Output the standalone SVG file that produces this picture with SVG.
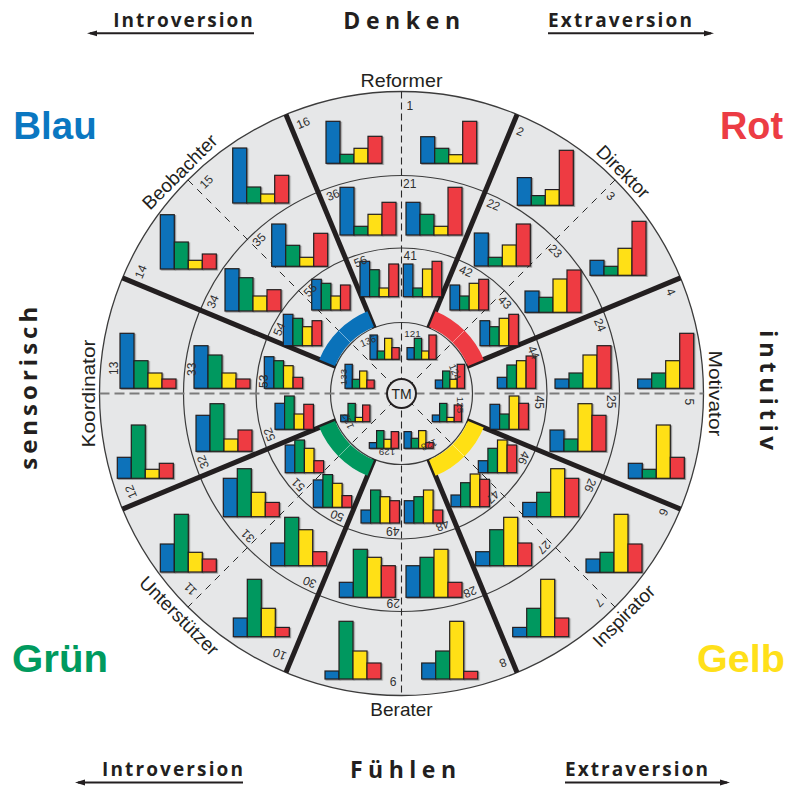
<svg xmlns="http://www.w3.org/2000/svg" width="789" height="787" viewBox="0 0 789 787">
  <defs>
    <style>
      .hd{font-family:"Open Sans","Liberation Sans",Arial,sans-serif;font-weight:bold;fill:#231f20}
      .cw{font-family:"Liberation Sans",Arial,sans-serif;font-weight:bold}
      .tl{font-family:"Liberation Sans",Arial,sans-serif;font-size:19px;fill:#231f20;text-anchor:middle}
      .nm{font-family:"Liberation Sans",Arial,sans-serif;font-size:12px;fill:#2f2f2f}
      .ni{font-family:"Liberation Sans",Arial,sans-serif;font-size:9.8px;fill:#2f2f2f;text-anchor:middle}
      .ring{fill:none;stroke:#3c3c3c;stroke-width:1.2}
      .thick{stroke:#231f20;stroke-width:5;stroke-linecap:butt}
      .dash{stroke:#2a2a2a;stroke-width:1.1;stroke-dasharray:7 4}
      .dashd{stroke:#2a2a2a;stroke-width:1;stroke-dasharray:7 6}
      .dashh{stroke:#7c7c7c;stroke-width:1.8;stroke-dasharray:10 5}
      .band{fill:none;stroke-width:17}
      .arr{stroke:#231f20;stroke-width:2}
      .ch{filter:url(#sh)}
      .ch rect{stroke:#231f20;stroke-width:1.2}
      .b{fill:#0a72ba}
      .g{fill:#00985e}
      .y{fill:#ffe014}
      .r{fill:#ee3b43}
    </style>
    <filter id="sh" x="-10%" y="-10%" width="130%" height="130%">
      <feDropShadow dx="1.2" dy="1" stdDeviation="0.6" flood-color="#000" flood-opacity="0.35"/>
    </filter>
    <marker id="ah" markerUnits="userSpaceOnUse" markerWidth="10" markerHeight="7" refX="7" refY="3.5" orient="auto">
      <path d="M0,0.6 L10,3.5 L0,6.4 z" fill="#231f20"/>
    </marker>
  </defs>

  <rect width="789" height="787" fill="#ffffff"/>

  <!-- headers -->
  <g id="headers">
    <text class="hd" x="113.3" y="26.7" font-size="19" textLength="139.4" lengthAdjust="spacing">Introversion</text>
    <text class="hd" x="343.3" y="29.3" font-size="23" textLength="116.7" lengthAdjust="spacing">Denken</text>
    <text class="hd" x="548" y="26.7" font-size="19" textLength="144" lengthAdjust="spacing">Extraversion</text>
    <line class="arr" x1="254" y1="33.3" x2="90" y2="33.3" marker-end="url(#ah)"/>
    <line class="arr" x1="548" y1="33.3" x2="711" y2="33.3" marker-end="url(#ah)"/>
    <text class="hd" x="102" y="776" font-size="19" textLength="141" lengthAdjust="spacing">Introversion</text>
    <text class="hd" x="350" y="778" font-size="23" textLength="106" lengthAdjust="spacing">Fühlen</text>
    <text class="hd" x="565" y="776" font-size="19" textLength="143" lengthAdjust="spacing">Extraversion</text>
    <line class="arr" x1="243" y1="782.5" x2="78" y2="782.5" marker-end="url(#ah)"/>
    <line class="arr" x1="565" y1="782.5" x2="727" y2="782.5" marker-end="url(#ah)"/>
    <text class="hd" font-size="24" text-anchor="middle" textLength="163" lengthAdjust="spacing" transform="translate(37.3 388.3) rotate(-90)">sensorisch</text>
    <text class="hd" font-size="24" text-anchor="middle" textLength="120" lengthAdjust="spacing" transform="translate(760 390) rotate(90)">intuitiv</text>
    <text class="cw" x="13.3" y="139.3" font-size="39" fill="#0a77c1" textLength="83.4" lengthAdjust="spacingAndGlyphs">Blau</text>
    <text class="cw" x="720" y="139" font-size="39" fill="#ec3c44" textLength="63" lengthAdjust="spacingAndGlyphs">Rot</text>
    <text class="cw" x="12" y="672" font-size="39" fill="#009a5e" textLength="96" lengthAdjust="spacingAndGlyphs">Grün</text>
    <text class="cw" x="697" y="672" font-size="39" fill="#ffe01a" textLength="88" lengthAdjust="spacingAndGlyphs">Gelb</text>
  </g>

  <!-- disk and rings -->
  <g id="rings">
    <circle cx="401.5" cy="393.5" r="302" fill="#e6e7e8" stroke="#3c3c3c" stroke-width="1.3"/>
    <circle class="ring" cx="401.5" cy="393.5" r="218"/>
    <circle class="ring" cx="401.5" cy="393.5" r="145.5"/>
    <circle class="ring" cx="401.5" cy="393.5" r="71"/>
  </g>

  <!-- connectors: sector dividers -->
  <g id="connectors">
    <line class="dash" x1="401.5" y1="91.5" x2="401.5" y2="695.5"/>
    <line class="dashh" x1="99.5" y1="393.5" x2="703.5" y2="393.5"/>
    <line class="dashd" x1="187.96" y1="179.96" x2="615.04" y2="607.04"/>
    <line class="dashd" x1="615.04" y1="179.96" x2="187.96" y2="607.04"/>
    <line class="thick" x1="428.67" y1="327.9" x2="517.07" y2="114.49"/>
    <line class="thick" x1="467.1" y1="366.33" x2="680.51" y2="277.93"/>
    <line class="thick" x1="467.1" y1="420.67" x2="680.51" y2="509.07"/>
    <line class="thick" x1="428.67" y1="459.1" x2="517.07" y2="672.51"/>
    <line class="thick" x1="374.33" y1="459.1" x2="285.93" y2="672.51"/>
    <line class="thick" x1="335.9" y1="420.67" x2="122.49" y2="509.07"/>
    <line class="thick" x1="335.9" y1="366.33" x2="122.49" y2="277.93"/>
    <line class="thick" x1="374.33" y1="327.9" x2="285.93" y2="114.49"/>
  </g>

  <!-- colour bands around the core -->
  <g id="bands">
    <path class="band" stroke="#ee3b43" d="M432.306,319.128 A80.5,80.5 0 0 1 475.872,362.694"/>
    <path class="band" stroke="#ffe014" d="M475.872,424.306 A80.5,80.5 0 0 1 432.306,467.872"/>
    <path class="band" stroke="#00985e" d="M370.694,467.872 A80.5,80.5 0 0 1 327.128,424.306"/>
    <path class="band" stroke="#0a72ba" d="M327.128,362.694 A80.5,80.5 0 0 1 370.694,319.128"/>
    <g stroke="#ffffff" stroke-opacity="0.45" stroke-width="1">
      <line x1="452.4" y1="342.6" x2="464.4" y2="330.6"/>
      <line x1="452.4" y1="444.4" x2="464.4" y2="456.4"/>
      <line x1="350.6" y1="444.4" x2="338.6" y2="456.4"/>
      <line x1="350.6" y1="342.6" x2="338.6" y2="330.6"/>
    </g>
  </g>

  <g id="tm">
    <circle cx="401.5" cy="393.5" r="14.5" fill="#e6e7e8" stroke="#231f20" stroke-width="2"/>
    <text x="401.5" y="398.5" font-family="Liberation Sans, Arial, sans-serif" font-size="14" fill="#231f20" text-anchor="middle">TM</text>
  </g>

  <!-- outer ring charts -->
  <g id="outer-charts">
    <g id="o0" class="ch" transform="translate(420.7 163.3)"><rect class="b" x="0" y="-26.6" width="14" height="26.6"/><rect class="g" x="14" y="-15" width="14" height="15"/><rect class="y" x="28" y="-8.6" width="14" height="8.6"/><rect class="r" x="42" y="-42" width="14" height="42"/></g>
    <g id="o1" class="ch" transform="translate(517.3 205.3)"><rect class="b" x="0" y="-27.7" width="14" height="27.7"/><rect class="g" x="14" y="-9.7" width="14" height="9.7"/><rect class="y" x="28" y="-15.7" width="14" height="15.7"/><rect class="r" x="42" y="-55" width="14" height="55"/></g>
    <g id="o2" class="ch" transform="translate(590 275.3)"><rect class="b" x="0" y="-15" width="14" height="15"/><rect class="g" x="14" y="-9" width="14" height="9"/><rect class="y" x="28" y="-27" width="14" height="27"/><rect class="r" x="42" y="-54" width="14" height="54"/></g>
    <g id="o3" class="ch" transform="translate(637.7 388.3)"><rect class="b" x="0" y="-9.3" width="14" height="9.3"/><rect class="g" x="14" y="-15.3" width="14" height="15.3"/><rect class="y" x="28" y="-27.6" width="14" height="27.6"/><rect class="r" x="42" y="-55" width="14" height="55"/></g>
    <g id="o4" class="ch" transform="translate(628.3 478.3)"><rect class="b" x="0" y="-15" width="14" height="15"/><rect class="g" x="14" y="-9" width="14" height="9"/><rect class="y" x="28" y="-53.3" width="14" height="53.3"/><rect class="r" x="42" y="-21" width="14" height="21"/></g>
    <g id="o5" class="ch" transform="translate(586 572.3)"><rect class="b" x="0" y="-13.3" width="14" height="13.3"/><rect class="g" x="14" y="-20" width="14" height="20"/><rect class="y" x="28" y="-58" width="14" height="58"/><rect class="r" x="42" y="-28.3" width="14" height="28.3"/></g>
    <g id="o6" class="ch" transform="translate(512.7 636.7)"><rect class="b" x="0" y="-9.3" width="14" height="9.3"/><rect class="g" x="14" y="-28.4" width="14" height="28.4"/><rect class="y" x="28" y="-57.4" width="14" height="57.4"/><rect class="r" x="42" y="-18.7" width="14" height="18.7"/></g>
    <g id="o7" class="ch" transform="translate(421.7 679)"><rect class="b" x="0" y="-16" width="14" height="16"/><rect class="g" x="14" y="-28" width="14" height="28"/><rect class="y" x="28" y="-57.7" width="14" height="57.7"/><rect class="r" x="42" y="-7.7" width="14" height="7.7"/></g>
    <g id="o8" class="ch" transform="translate(325 679)"><rect class="b" x="0" y="-8" width="14" height="8"/><rect class="g" x="14" y="-57.7" width="14" height="57.7"/><rect class="y" x="28" y="-28" width="14" height="28"/><rect class="r" x="42" y="-16" width="14" height="16"/></g>
    <g id="o9" class="ch" transform="translate(233.3 636.7)"><rect class="b" x="0" y="-18.7" width="14" height="18.7"/><rect class="g" x="14" y="-57.4" width="14" height="57.4"/><rect class="y" x="28" y="-28.4" width="14" height="28.4"/><rect class="r" x="42" y="-9.3" width="14" height="9.3"/></g>
    <g id="o10" class="ch" transform="translate(160.3 572)"><rect class="b" x="0" y="-28" width="14" height="28"/><rect class="g" x="14" y="-57.7" width="14" height="57.7"/><rect class="y" x="28" y="-19.7" width="14" height="19.7"/><rect class="r" x="42" y="-13" width="14" height="13"/></g>
    <g id="o11" class="ch" transform="translate(117.3 478.3)"><rect class="b" x="0" y="-21" width="14" height="21"/><rect class="g" x="14" y="-53.3" width="14" height="53.3"/><rect class="y" x="28" y="-9" width="14" height="9"/><rect class="r" x="42" y="-15" width="14" height="15"/></g>
    <g id="o12" class="ch" transform="translate(120 388.3)"><rect class="b" x="0" y="-55" width="14" height="55"/><rect class="g" x="14" y="-27.6" width="14" height="27.6"/><rect class="y" x="28" y="-15.3" width="14" height="15.3"/><rect class="r" x="42" y="-9.3" width="14" height="9.3"/></g>
    <g id="o13" class="ch" transform="translate(160.3 269)"><rect class="b" x="0" y="-54.3" width="14" height="54.3"/><rect class="g" x="14" y="-27" width="14" height="27"/><rect class="y" x="28" y="-8.7" width="14" height="8.7"/><rect class="r" x="42" y="-15" width="14" height="15"/></g>
    <g id="o14" class="ch" transform="translate(232.7 203)"><rect class="b" x="0" y="-55" width="14" height="55"/><rect class="g" x="14" y="-16" width="14" height="16"/><rect class="y" x="28" y="-9" width="14" height="9"/><rect class="r" x="42" y="-27.7" width="14" height="27.7"/></g>
    <g id="o15" class="ch" transform="translate(326 163.3)"><rect class="b" x="0" y="-42" width="14" height="42"/><rect class="g" x="14" y="-9" width="14" height="9"/><rect class="y" x="28" y="-15" width="14" height="15"/><rect class="r" x="42" y="-27" width="14" height="27"/></g>
  </g>

  <!-- second ring charts -->
  <g id="middle-charts">
    <g id="m0" class="ch" transform="translate(406 235)"><rect class="b" x="0" y="-32.7" width="14" height="32.7"/><rect class="g" x="14" y="-20.7" width="14" height="20.7"/><rect class="y" x="28" y="-8.7" width="14" height="8.7"/><rect class="r" x="42" y="-47.7" width="14" height="47.7"/></g>
    <g id="m1" class="ch" transform="translate(474.3 266)"><rect class="b" x="0" y="-33" width="14" height="33"/><rect class="g" x="14" y="-8.7" width="14" height="8.7"/><rect class="y" x="28" y="-21" width="14" height="21"/><rect class="r" x="42" y="-42" width="14" height="42"/></g>
    <g id="m2" class="ch" transform="translate(525 312.3)"><rect class="b" x="0" y="-21.3" width="14" height="21.3"/><rect class="g" x="14" y="-15" width="14" height="15"/><rect class="y" x="28" y="-33.3" width="14" height="33.3"/><rect class="r" x="42" y="-42.3" width="14" height="42.3"/></g>
    <g id="m3" class="ch" transform="translate(555 388.3)"><rect class="b" x="0" y="-9.3" width="14" height="9.3"/><rect class="g" x="14" y="-15.3" width="14" height="15.3"/><rect class="y" x="28" y="-33.3" width="14" height="33.3"/><rect class="r" x="42" y="-42.6" width="14" height="42.6"/></g>
    <g id="m4" class="ch" transform="translate(550 451.3)"><rect class="b" x="0" y="-21.3" width="14" height="21.3"/><rect class="g" x="14" y="-12.3" width="14" height="12.3"/><rect class="y" x="28" y="-47.6" width="14" height="47.6"/><rect class="r" x="42" y="-36" width="14" height="36"/></g>
    <g id="m5" class="ch" transform="translate(522.7 516.7)"><rect class="b" x="0" y="-14.3" width="14" height="14.3"/><rect class="g" x="14" y="-24.4" width="14" height="24.4"/><rect class="y" x="28" y="-48" width="14" height="48"/><rect class="r" x="42" y="-38.4" width="14" height="38.4"/></g>
    <g id="m6" class="ch" transform="translate(475.7 565.7)"><rect class="b" x="0" y="-14" width="14" height="14"/><rect class="g" x="14" y="-36" width="14" height="36"/><rect class="y" x="28" y="-48.4" width="14" height="48.4"/><rect class="r" x="42" y="-22.7" width="14" height="22.7"/></g>
    <g id="m7" class="ch" transform="translate(406 597.3)"><rect class="b" x="0" y="-31.6" width="14" height="31.6"/><rect class="g" x="14" y="-40" width="14" height="40"/><rect class="y" x="28" y="-48" width="14" height="48"/><rect class="r" x="42" y="-15" width="14" height="15"/></g>
    <g id="m8" class="ch" transform="translate(339.3 597.3)"><rect class="b" x="0" y="-15" width="14" height="15"/><rect class="g" x="14" y="-48" width="14" height="48"/><rect class="y" x="28" y="-40" width="14" height="40"/><rect class="r" x="42" y="-31.6" width="14" height="31.6"/></g>
    <g id="m9" class="ch" transform="translate(270.7 565.7)"><rect class="b" x="0" y="-22.7" width="14" height="22.7"/><rect class="g" x="14" y="-48.4" width="14" height="48.4"/><rect class="y" x="28" y="-36" width="14" height="36"/><rect class="r" x="42" y="-14" width="14" height="14"/></g>
    <g id="m10" class="ch" transform="translate(223.3 516.7)"><rect class="b" x="0" y="-38.4" width="14" height="38.4"/><rect class="g" x="14" y="-48" width="14" height="48"/><rect class="y" x="28" y="-24.4" width="14" height="24.4"/><rect class="r" x="42" y="-14.3" width="14" height="14.3"/></g>
    <g id="m11" class="ch" transform="translate(196 451.3)"><rect class="b" x="0" y="-36" width="14" height="36"/><rect class="g" x="14" y="-47.6" width="14" height="47.6"/><rect class="y" x="28" y="-12.3" width="14" height="12.3"/><rect class="r" x="42" y="-21.3" width="14" height="21.3"/></g>
    <g id="m12" class="ch" transform="translate(194 388.3)"><rect class="b" x="0" y="-42.6" width="14" height="42.6"/><rect class="g" x="14" y="-33.3" width="14" height="33.3"/><rect class="y" x="28" y="-15.3" width="14" height="15.3"/><rect class="r" x="42" y="-9.3" width="14" height="9.3"/></g>
    <g id="m13" class="ch" transform="translate(225 311)"><rect class="b" x="0" y="-42.3" width="14" height="42.3"/><rect class="g" x="14" y="-33.3" width="14" height="33.3"/><rect class="y" x="28" y="-15" width="14" height="15"/><rect class="r" x="42" y="-21.3" width="14" height="21.3"/></g>
    <g id="m14" class="ch" transform="translate(271.7 266.3)"><rect class="b" x="0" y="-42.3" width="14" height="42.3"/><rect class="g" x="14" y="-21" width="14" height="21"/><rect class="y" x="28" y="-9" width="14" height="9"/><rect class="r" x="42" y="-33" width="14" height="33"/></g>
    <g id="m15" class="ch" transform="translate(340 235)"><rect class="b" x="0" y="-47.7" width="14" height="47.7"/><rect class="g" x="14" y="-8.7" width="14" height="8.7"/><rect class="y" x="28" y="-20.7" width="14" height="20.7"/><rect class="r" x="42" y="-32.7" width="14" height="32.7"/></g>
  </g>

  <!-- third ring charts -->
  <g id="inner-charts">
    <g id="i0" class="ch" transform="translate(403.3 296.7)"><rect class="b" x="0" y="-32.7" width="9.6" height="32.7"/><rect class="g" x="9.6" y="-8.7" width="9.6" height="8.7"/><rect class="y" x="19.2" y="-27.7" width="9.6" height="27.7"/><rect class="r" x="28.8" y="-35.4" width="9.6" height="35.4"/></g>
    <g id="i1" class="ch" transform="translate(450 310)"><rect class="b" x="0" y="-25" width="9.6" height="25"/><rect class="g" x="9.6" y="-14" width="9.6" height="14"/><rect class="y" x="19.2" y="-26.7" width="9.6" height="26.7"/><rect class="r" x="28.8" y="-30.7" width="9.6" height="30.7"/></g>
    <g id="i2" class="ch" transform="translate(480 345.7)"><rect class="b" x="0" y="-25" width="9.6" height="25"/><rect class="g" x="9.6" y="-19" width="9.6" height="19"/><rect class="y" x="19.2" y="-27.4" width="9.6" height="27.4"/><rect class="r" x="28.8" y="-31.4" width="9.6" height="31.4"/></g>
    <g id="i3" class="ch" transform="translate(497.3 388.3)"><rect class="b" x="0" y="-11" width="9.6" height="11"/><rect class="g" x="9.6" y="-23.3" width="9.6" height="23.3"/><rect class="y" x="19.2" y="-27.6" width="9.6" height="27.6"/><rect class="r" x="28.8" y="-32.3" width="9.6" height="32.3"/></g>
    <g id="i4" class="ch" transform="translate(490 429.3)"><rect class="b" x="0" y="-25" width="9.6" height="25"/><rect class="g" x="9.6" y="-15.3" width="9.6" height="15.3"/><rect class="y" x="19.2" y="-33.3" width="9.6" height="33.3"/><rect class="r" x="28.8" y="-26" width="9.6" height="26"/></g>
    <g id="i5" class="ch" transform="translate(478.3 472.7)"><rect class="b" x="0" y="-12" width="9.6" height="12"/><rect class="g" x="9.6" y="-24.4" width="9.6" height="24.4"/><rect class="y" x="19.2" y="-32.7" width="9.6" height="32.7"/><rect class="r" x="28.8" y="-27.7" width="9.6" height="27.7"/></g>
    <g id="i6" class="ch" transform="translate(451 506.7)"><rect class="b" x="0" y="-11.7" width="9.6" height="11.7"/><rect class="g" x="9.6" y="-24" width="9.6" height="24"/><rect class="y" x="19.2" y="-32.7" width="9.6" height="32.7"/><rect class="r" x="28.8" y="-27.4" width="9.6" height="27.4"/></g>
    <g id="i7" class="ch" transform="translate(404.3 523)"><rect class="b" x="0" y="-22.3" width="9.6" height="22.3"/><rect class="g" x="9.6" y="-26.3" width="9.6" height="26.3"/><rect class="y" x="19.2" y="-33" width="9.6" height="33"/><rect class="r" x="28.8" y="-13" width="9.6" height="13"/></g>
    <g id="i8" class="ch" transform="translate(361 523)"><rect class="b" x="0" y="-13" width="9.6" height="13"/><rect class="g" x="9.6" y="-33" width="9.6" height="33"/><rect class="y" x="19.2" y="-26.3" width="9.6" height="26.3"/><rect class="r" x="28.8" y="-22.3" width="9.6" height="22.3"/></g>
    <g id="i9" class="ch" transform="translate(313.3 507.3)"><rect class="b" x="0" y="-27.4" width="9.6" height="27.4"/><rect class="g" x="9.6" y="-32.7" width="9.6" height="32.7"/><rect class="y" x="19.2" y="-24" width="9.6" height="24"/><rect class="r" x="28.8" y="-11.7" width="9.6" height="11.7"/></g>
    <g id="i10" class="ch" transform="translate(285.2 472.7)"><rect class="b" x="0" y="-27.7" width="9.6" height="27.7"/><rect class="g" x="9.6" y="-32.7" width="9.6" height="32.7"/><rect class="y" x="19.2" y="-24.4" width="9.6" height="24.4"/><rect class="r" x="28.8" y="-12" width="9.6" height="12"/></g>
    <g id="i11" class="ch" transform="translate(275 429.3)"><rect class="b" x="0" y="-26" width="9.6" height="26"/><rect class="g" x="9.6" y="-33.3" width="9.6" height="33.3"/><rect class="y" x="19.2" y="-15.3" width="9.6" height="15.3"/><rect class="r" x="28.8" y="-25" width="9.6" height="25"/></g>
    <g id="i12" class="ch" transform="translate(264.3 388.3)"><rect class="b" x="0" y="-31.6" width="9.6" height="31.6"/><rect class="g" x="9.6" y="-27.6" width="9.6" height="27.6"/><rect class="y" x="19.2" y="-22.6" width="9.6" height="22.6"/><rect class="r" x="28.8" y="-11" width="9.6" height="11"/></g>
    <g id="i13" class="ch" transform="translate(283.3 345.7)"><rect class="b" x="0" y="-31.4" width="9.6" height="31.4"/><rect class="g" x="9.6" y="-27.4" width="9.6" height="27.4"/><rect class="y" x="19.2" y="-19" width="9.6" height="19"/><rect class="r" x="28.8" y="-25" width="9.6" height="25"/></g>
    <g id="i14" class="ch" transform="translate(311.7 310)"><rect class="b" x="0" y="-30.7" width="9.6" height="30.7"/><rect class="g" x="9.6" y="-26.7" width="9.6" height="26.7"/><rect class="y" x="19.2" y="-14" width="9.6" height="14"/><rect class="r" x="28.8" y="-25" width="9.6" height="25"/></g>
    <g id="i15" class="ch" transform="translate(360 296.7)"><rect class="b" x="0" y="-35.4" width="9.6" height="35.4"/><rect class="g" x="9.6" y="-27" width="9.6" height="27"/><rect class="y" x="19.2" y="-8.7" width="9.6" height="8.7"/><rect class="r" x="28.8" y="-32.7" width="9.6" height="32.7"/></g>
  </g>

  <!-- core charts -->
  <g id="core-charts">
    <g id="k121" class="ch" transform="translate(407 359.3)"><rect class="b" x="0" y="-11.7" width="7.3" height="11.7"/><rect class="g" x="7.3" y="-21" width="7.3" height="21"/><rect class="y" x="14.6" y="-8.3" width="7.3" height="8.3"/><rect class="r" x="21.9" y="-24.3" width="7.3" height="24.3"/></g>
    <g id="k124" class="ch" transform="translate(435.3 388.3)"><rect class="b" x="0" y="-8.3" width="7.3" height="8.3"/><rect class="g" x="7.3" y="-17.3" width="7.3" height="17.3"/><rect class="y" x="14.6" y="-9" width="7.3" height="9"/><rect class="r" x="21.9" y="-24" width="7.3" height="24"/></g>
    <g id="k125" class="ch" transform="translate(432.3 421.7)"><rect class="b" x="0" y="-6.7" width="7.3" height="6.7"/><rect class="g" x="7.3" y="-18.3" width="7.3" height="18.3"/><rect class="y" x="14.6" y="-4.3" width="7.3" height="4.3"/><rect class="r" x="21.9" y="-16.7" width="7.3" height="16.7"/></g>
    <g id="k128" class="ch" transform="translate(404 448.3)"><rect class="b" x="0" y="-16.7" width="7.3" height="16.7"/><rect class="g" x="7.3" y="-10" width="7.3" height="10"/><rect class="y" x="14.6" y="-17.7" width="7.3" height="17.7"/><rect class="r" x="21.9" y="-5.7" width="7.3" height="5.7"/></g>
    <g id="k129" class="ch" transform="translate(369.3 448.3)"><rect class="b" x="0" y="-5.7" width="7.3" height="5.7"/><rect class="g" x="7.3" y="-17.7" width="7.3" height="17.7"/><rect class="y" x="14.6" y="-9" width="7.3" height="9"/><rect class="r" x="21.9" y="-16.7" width="7.3" height="16.7"/></g>
    <g id="k132" class="ch" transform="translate(340.7 421.7)"><rect class="b" x="0" y="-6.7" width="7.3" height="6.7"/><rect class="g" x="7.3" y="-18.3" width="7.3" height="18.3"/><rect class="y" x="14.6" y="-4.3" width="7.3" height="4.3"/><rect class="r" x="21.9" y="-16.7" width="7.3" height="16.7"/></g>
    <g id="k133" class="ch" transform="translate(345 388.3)"><rect class="b" x="0" y="-24" width="7.3" height="24"/><rect class="g" x="7.3" y="-9" width="7.3" height="9"/><rect class="y" x="14.6" y="-17.3" width="7.3" height="17.3"/><rect class="r" x="21.9" y="-8.3" width="7.3" height="8.3"/></g>
    <g id="k136" class="ch" transform="translate(370 359.3)"><rect class="b" x="0" y="-24.3" width="7.3" height="24.3"/><rect class="g" x="7.3" y="-8.3" width="7.3" height="8.3"/><rect class="y" x="14.6" y="-21" width="7.3" height="21"/><rect class="r" x="21.9" y="-11.7" width="7.3" height="11.7"/></g>
  </g>

  <!-- sector numbers -->
  <g id="numbers" class="nm">
    <text x="406.5" y="110" transform="rotate(0 401.5 393.5)">1</text>
    <text x="407.5" y="110" transform="rotate(22.5 401.5 393.5)">2</text>
    <text x="406.5" y="110" transform="rotate(45 401.5 393.5)">3</text>
    <text x="407.5" y="110" transform="rotate(67.5 401.5 393.5)">4</text>
    <text x="406.5" y="110" transform="rotate(90 401.5 393.5)">5</text>
    <text x="407.5" y="110" transform="rotate(112.5 401.5 393.5)">6</text>
    <text x="406.5" y="110" transform="rotate(135 401.5 393.5)">7</text>
    <text x="407.5" y="110" transform="rotate(157.5 401.5 393.5)">8</text>
    <text x="406.5" y="110" transform="rotate(180 401.5 393.5)">9</text>
    <text x="407.5" y="110" transform="rotate(202.5 401.5 393.5)">10</text>
    <text x="406.5" y="110" transform="rotate(225 401.5 393.5)">11</text>
    <text x="407.5" y="110" transform="rotate(247.5 401.5 393.5)">12</text>
    <text x="420" y="110" transform="rotate(270 401.5 393.5)">13</text>
    <text x="407.5" y="110" transform="rotate(292.5 401.5 393.5)">14</text>
    <text x="406.5" y="110" transform="rotate(315 401.5 393.5)">15</text>
    <text x="407.5" y="110" transform="rotate(337.5 401.5 393.5)">16</text>

    <text x="403" y="188" transform="rotate(0 401.5 393.5)">21</text>
    <text x="407.5" y="188" transform="rotate(22.5 401.5 393.5)">22</text>
    <text x="403" y="188" transform="rotate(45 401.5 393.5)">23</text>
    <text x="407.5" y="188" transform="rotate(67.5 401.5 393.5)">24</text>
    <text x="403" y="188" transform="rotate(90 401.5 393.5)">25</text>
    <text x="407.5" y="188" transform="rotate(112.5 401.5 393.5)">26</text>
    <text x="403" y="188" transform="rotate(135 401.5 393.5)">27</text>
    <text x="407.5" y="188" transform="rotate(157.5 401.5 393.5)">28</text>
    <text x="403" y="188" transform="rotate(180 401.5 393.5)">29</text>
    <text x="407.5" y="188" transform="rotate(202.5 401.5 393.5)">30</text>
    <text x="403" y="188" transform="rotate(225 401.5 393.5)">31</text>
    <text x="407.5" y="188" transform="rotate(247.5 401.5 393.5)">32</text>
    <text x="419" y="188" transform="rotate(270 401.5 393.5)">33</text>
    <text x="407.5" y="188" transform="rotate(292.5 401.5 393.5)">34</text>
    <text x="403" y="188" transform="rotate(315 401.5 393.5)">35</text>
    <text x="407.5" y="188" transform="rotate(337.5 401.5 393.5)">36</text>

    <text x="403.5" y="260" transform="rotate(0 401.5 393.5)">41</text>
    <text x="407.5" y="260" transform="rotate(22.5 401.5 393.5)">42</text>
    <text x="403.5" y="260" transform="rotate(45 401.5 393.5)">43</text>
    <text x="407.5" y="260" transform="rotate(67.5 401.5 393.5)">44</text>
    <text x="403.5" y="260" transform="rotate(90 401.5 393.5)">45</text>
    <text x="407.5" y="260" transform="rotate(112.5 401.5 393.5)">46</text>
    <text x="403.5" y="260" transform="rotate(135 401.5 393.5)">47</text>
    <text x="407.5" y="260" transform="rotate(157.5 401.5 393.5)">48</text>
    <text x="403.5" y="260" transform="rotate(180 401.5 393.5)">49</text>
    <text x="407.5" y="260" transform="rotate(202.5 401.5 393.5)">50</text>
    <text x="403.5" y="260" transform="rotate(225 401.5 393.5)">51</text>
    <text x="407.5" y="260" transform="rotate(247.5 401.5 393.5)">52</text>
    <text x="407" y="260" transform="rotate(270 401.5 393.5)">53</text>
    <text x="407.5" y="260" transform="rotate(292.5 401.5 393.5)">54</text>
    <text x="403.5" y="260" transform="rotate(315 401.5 393.5)">55</text>
    <text x="407.5" y="260" transform="rotate(337.5 401.5 393.5)">56</text>
  </g>
  <g id="core-numbers" class="ni">
    <text x="412.5" y="336.5" transform="rotate(0 412.5 333)">121</text>
    <text x="455" y="375.5" transform="rotate(67.5 455 372)">124</text>
    <text x="460" y="408.5" transform="rotate(90 460 405)">125</text>
    <text x="429" y="448.5" transform="rotate(157.5 429 445)">128</text>
    <text x="387" y="455.5" transform="rotate(180 387 452)">129</text>
    <text x="348" y="424.5" transform="rotate(247.5 348 421)">132</text>
    <text x="343" y="380.5" transform="rotate(270 343 377)">133</text>
    <text x="368" y="344.5" transform="rotate(337.5 368 341)">136</text>
  </g>

  <!-- type names around the wheel -->
  <g id="types">
    <text class="tl" x="401.5" y="86.5" textLength="82" lengthAdjust="spacingAndGlyphs">Reformer</text>
    <text class="tl" x="401.5" y="86.5" transform="rotate(45 401.5 393.5)">Direktor</text>
    <text class="tl" x="401.5" y="86.5" textLength="86" lengthAdjust="spacingAndGlyphs" transform="rotate(90 401.5 393.5)">Motivator</text>
    <text class="tl" x="401.5" y="714.5" transform="rotate(-45 401.5 393.5)">Inspirator</text>
    <text class="tl" x="401.5" y="716">Berater</text>
    <text class="tl" x="401.5" y="714.5" transform="rotate(45 401.5 393.5)">Unterstützer</text>
    <text class="tl" x="401.5" y="86.5" textLength="108" lengthAdjust="spacingAndGlyphs" transform="rotate(-90 401.5 393.5)">Koordinator</text>
    <text class="tl" x="401.5" y="86.5" transform="rotate(-45 401.5 393.5)">Beobachter</text>
  </g>
</svg>
